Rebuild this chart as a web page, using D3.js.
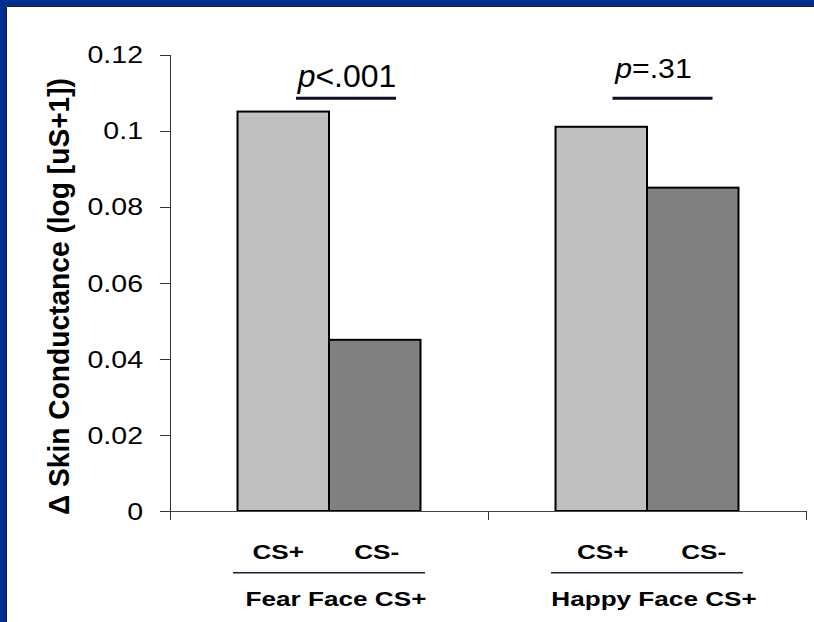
<!DOCTYPE html>
<html>
<head>
<meta charset="utf-8">
<script src="https://cdn.jsdelivr.net/npm/d3@7"></script>
<style>
  html, body { margin: 0; padding: 0; background: #fff; }
  svg { display: block; }
  text { font-family: Arial, "Liberation Sans", sans-serif; fill: #000; }
</style>
</head>
<body>
<svg id="chart" width="814" height="622"></svg>
<script>
// data
var groups = ["Fear Face CS+", "Happy Face CS+"];
var conditions = ["CS+", "CS-"];
var fearValues = [0.105, 0.045];
var happyValues = [0.101, 0.085];
var yTicks = [0, 0.02, 0.04, 0.06, 0.08, 0.1, 0.12];
var pLabels = [["p", "<.001"], ["p", "=.31"]];
var yTitle = "\u0394 Skin Conductance (log [uS+1])";

var svg = d3.select("#chart");
var W = 814, H = 622;

// slide frame: blue strip on top and left
svg.append("rect").attr("width", W).attr("height", H).attr("fill", "#fff");
svg.append("rect").attr("x", 0).attr("y", 0).attr("width", W).attr("height", 6).attr("fill", "#00308c");
svg.append("rect").attr("x", 0).attr("y", 0).attr("width", 6).attr("height", H).attr("fill", "#00308c");
svg.append("line").attr("x1", 6.5).attr("x2", W).attr("y1", 6.5).attr("y2", 6.5).attr("stroke", "#141a3c");
svg.append("line").attr("x1", 6.5).attr("x2", 6.5).attr("y1", 6.5).attr("y2", H).attr("stroke", "#141a3c");

var x0 = d3.scaleBand().domain(groups).range([170, 806]).padding(0);
var x1 = d3.scaleBand().domain(conditions).range([0, x0.bandwidth()])
    .paddingInner(0).paddingOuter(0.738);
var y = d3.scaleLinear().domain([0, 0.12]).range([511, 54.5]);

var rows = [];
groups.forEach(function (g, gi) {
    var vals = gi === 0 ? fearValues : happyValues;
    conditions.forEach(function (c, ci) {
        rows.push({group: g, cond: c, value: vals[ci]});
    });
});
var barFill = {"CS+": "#c0c0c0", "CS-": "#808080"};
// the hand-placed labels on the slide sit a little off the bar centres
var labelNudge = [-5, 2, 1.5, 11];

// y axis
var yAxis = d3.axisLeft(y).tickValues(yTicks).tickSize(10).tickSizeOuter(0).tickPadding(17)
    .tickFormat(function (d) { return d === 0 ? "0" : String(+d.toFixed(2)); });
var gy = svg.append("g").attr("transform", "translate(170,0)").call(yAxis);
gy.select(".domain").remove();
gy.selectAll(".tick line").attr("stroke", "#333").attr("shape-rendering", "crispEdges");
gy.selectAll(".tick text")
    .attr("x", null).attr("dy", "0.36em")
    .attr("transform", "translate(-27,0) scale(1.24,1)")
    .style("font-size", "23px").style("font-family", "Arial, 'Liberation Sans', sans-serif")
    .attr("fill", "#000");
svg.append("line").attr("x1", 170).attr("x2", 170)
    .attr("y1", y(0.12)).attr("y2", y(0) + 9)
    .attr("stroke", "#333").attr("shape-rendering", "crispEdges");

// bars
svg.append("g").selectAll("rect").data(rows).join("rect")
    .attr("x", function (d) { return x0(d.group) + x1(d.cond); })
    .attr("y", function (d) { return y(d.value); })
    .attr("width", x1.bandwidth())
    .attr("height", function (d) { return y(0) - y(d.value); })
    .attr("fill", function (d) { return barFill[d.cond]; })
    .attr("stroke", "#000").attr("stroke-width", 2);

// x axis line and group ticks
svg.append("line").attr("x1", 170).attr("x2", 806).attr("y1", y(0)).attr("y2", y(0))
    .attr("stroke", "#444").attr("shape-rendering", "crispEdges");
var bounds = groups.map(function (g) { return x0(g); }).concat([x0.range()[1]]);
svg.append("g").selectAll("line").data(bounds).join("line")
    .attr("x1", function (d) { return d; }).attr("x2", function (d) { return d; })
    .attr("y1", y(0)).attr("y2", y(0) + 9)
    .attr("stroke", "#333").attr("shape-rendering", "crispEdges");

// condition labels under each bar
svg.append("g").selectAll("text").data(rows).join("text")
    .attr("transform", function (d, i) {
        var cx = x0(d.group) + x1(d.cond) + x1.bandwidth() / 2 + labelNudge[i];
        return "translate(" + cx + ",558.5) scale(1.34,1)";
    })
    .attr("text-anchor", "middle")
    .style("font-size", "19.5px").style("font-weight", "bold")
    .text(function (d) { return d.cond; });

// underline + group name
groups.forEach(function (g) {
    var cx = x0(g) + x0.bandwidth() / 2;
    svg.append("line").attr("x1", cx - 96).attr("x2", cx + 96)
        .attr("y1", 572.7).attr("y2", 572.7)
        .attr("stroke", "#1c1f3a").attr("stroke-width", 1.6);
    svg.append("text")
        .attr("transform", "translate(" + (cx + 7) + ",606) scale(1.34,1)")
        .attr("text-anchor", "middle")
        .style("font-size", "19.5px").style("font-weight", "bold")
        .text(g);
});

// p-value annotations above each pair
var pLevel = 0.1085;
var pSize = [32, 27];
var pBase = [86.7, 77.5];
groups.forEach(function (g, gi) {
    var cx = x0(g) + x0.bandwidth() / 2 + 17 - gi * 1.5;
    svg.append("line").attr("x1", cx - 50).attr("x2", cx + 50)
        .attr("y1", y(pLevel)).attr("y2", y(pLevel))
        .attr("stroke", "#0c0f26").attr("stroke-width", 3.2);
    var t = svg.append("text")
        .attr("transform", "translate(" + (cx + 1 - gi * 10) + "," + pBase[gi] + ")" + (gi ? " scale(1.12,1)" : ""))
        .attr("text-anchor", "middle")
        .style("font-size", pSize[gi] + "px");
    t.append("tspan").style("font-style", "italic").text(pLabels[gi][0]);
    t.append("tspan").text(pLabels[gi][1]);
});

// y axis title
svg.append("text")
    .attr("transform", "translate(69,296.5) rotate(-90)")
    .attr("text-anchor", "middle")
    .attr("textLength", 437).attr("lengthAdjust", "spacingAndGlyphs")
    .style("font-size", "30px").style("font-weight", "bold")
    .text(yTitle);
</script>
</body>
</html>
